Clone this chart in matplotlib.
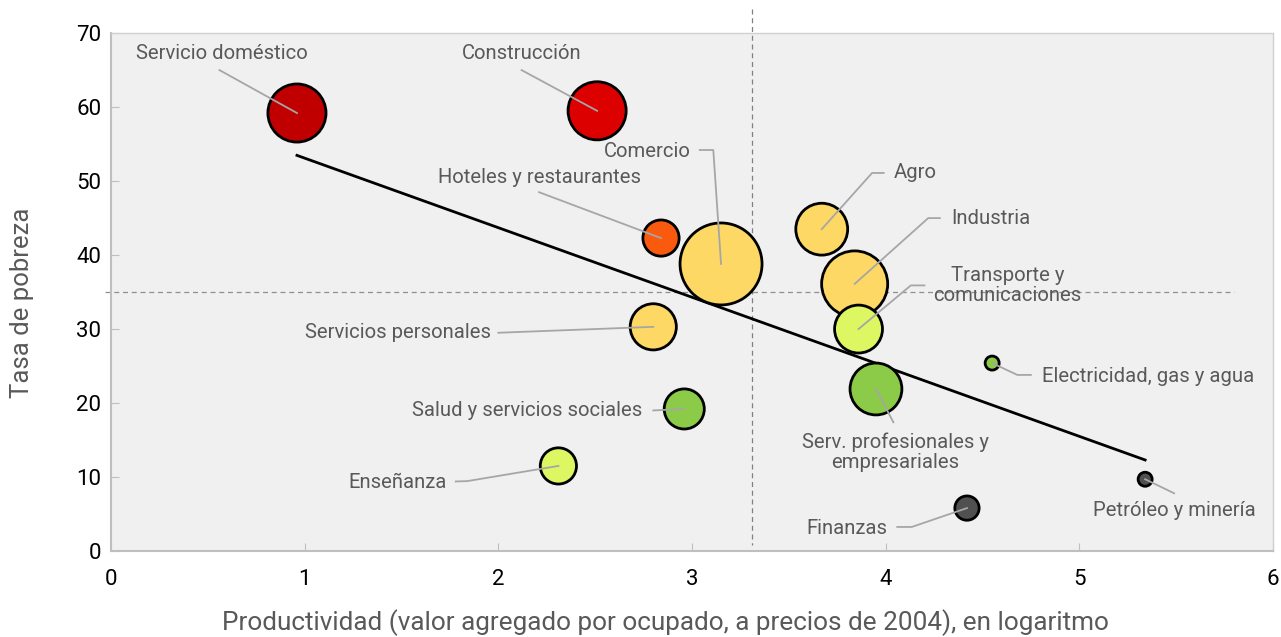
import matplotlib.pyplot as plt

plt.rcParams["font.family"] = ["Roboto", "DejaVu Sans"]

sectores = [
    "Servicio doméstico", "Construcción", "Hoteles y restaurantes", "Comercio",
    "Agro", "Industria", "Transporte y\ncomunicaciones", "Servicios personales",
    "Salud y servicios sociales", "Enseñanza", "Serv. profesionales y\nempresariales",
    "Electricidad, gas y agua", "Petróleo y minería", "Finanzas",
]
productividad = [0.96, 2.51, 2.84, 3.15, 3.67, 3.84, 3.86, 2.80, 2.96, 2.31, 3.95, 4.55, 5.34, 4.42]
pobreza = [59.2, 59.5, 42.3, 38.8, 43.5, 36.1, 30.0, 30.3, 19.2, 11.5, 21.9, 25.4, 9.7, 5.8]
participacion = [10.3, 10.3, 4.0, 20.5, 8.2, 13.3, 7.0, 6.5, 4.9, 4.0, 8.2, 0.6, 0.6, 1.8]
colores = ["#c00000", "#dd0000", "#f95a0e", "#fdd865", "#fdd865", "#fdd865", "#ddf763",
           "#fdd865", "#8bcb48", "#ddf763", "#8bcb48", "#8bcb48", "#505050", "#505050"]

# posicion de etiqueta y quiebre del conector (datos)
etiquetas = [
    (0.57, 67.2, "center", None),
    (2.12, 67.2, "center", None),
    (2.21, 50.5, "center", None),
    (2.77, 54.0, "center", (3.11, 54.2)),
    (4.04, 51.1, "left", (3.93, 51.1)),
    (4.34, 45.0, "left", (4.22, 45.0)),
    (4.63, 35.9, "center", (4.13, 35.9)),
    (1.48, 29.5, "center", None),
    (2.15, 19.0, "center", None),
    (1.48, 9.3, "center", (1.84, 9.45)),
    (4.05, 13.4, "center", None),
    (4.81, 23.6, "left", (4.68, 23.8)),
    (5.49, 5.5, "center", None),
    (3.80, 3.1, "center", (4.135, 3.25)),
]
# inicio del conector
conector = [
    (0.56, 65.0), (2.12, 65.0), (2.21, 48.5), (3.04, 54.2), (3.99, 51.1), (4.28, 45.0),
    (4.20, 35.9), (2.0, 29.5), (2.80, 19.0), (1.78, 9.4), (4.04, 17.4), (4.75, 23.8),
    (5.49, 7.8), (4.06, 3.25),
]

fig = plt.figure(figsize=(12.81, 6.37), dpi=100)
ax = fig.add_axes([0.0867, 0.135, 0.907, 0.813])
ax.set_facecolor("#f0f0f0")

ax.set_xlim(0, 6)
ax.set_ylim(0, 70)

# lineas de referencia
ax.plot([3.31, 3.31], [73.3, 0.8], ls=(0, (4, 3)), color="#808080", lw=0.9, clip_on=False, zorder=1)
ax.plot([-0.03, 5.8], [35.0, 35.0], ls=(0, (4, 3)), color="#909090", lw=0.9, clip_on=False, zorder=1)

# tendencia
x0, x1 = min(productividad), max(productividad)
pend, orig = -9.4, 62.5
ax.plot([x0, x1], [orig + pend * x0, orig + pend * x1], color="black", lw=2, zorder=2)

ax.scatter(productividad, pobreza, s=[p * 170 for p in participacion], c=colores,
           edgecolors="black", linewidths=2, zorder=3)

for i, nombre in enumerate(sectores):
    tx, ty, ha, quiebre = etiquetas[i]
    cx, cy = conector[i]
    xs = [cx] + ([quiebre[0]] if quiebre else []) + [productividad[i]]
    ys = [cy] + ([quiebre[1]] if quiebre else []) + [pobreza[i]]
    ax.plot(xs, ys, color="#a6a6a6", lw=1.3, zorder=4)
    ax.text(tx, ty, nombre, ha=ha, va="center", fontsize=14.6, color="#595959",
            linespacing=1.05, zorder=5)

ax.set_xticks(range(0, 7))
ax.set_yticks(range(0, 71, 10))
ax.tick_params(axis="both", direction="in", length=6, color="#bfbfbf", labelsize=16,
               labelcolor="black")
ax.tick_params(axis="x", pad=13)
ax.tick_params(axis="y", pad=7)
for lado in ["left", "bottom"]:
    ax.spines[lado].set_color("#bfbfbf")
    ax.spines[lado].set_linewidth(1.5)
for lado in ["top", "right"]:
    ax.spines[lado].set_color("#d0d0d0")
    ax.spines[lado].set_linewidth(1)

ax.set_xlabel("Productividad (valor agregado por ocupado, a precios de 2004), en logaritmo",
              fontsize=18.8, color="#595959")
ax.set_ylabel("Tasa de pobreza", fontsize=18.5, color="#595959")
ax.xaxis.set_label_coords(0.477, -0.113)
ax.yaxis.set_label_coords(-0.066, 0.479)

fig.savefig("out.png", dpi=100)
